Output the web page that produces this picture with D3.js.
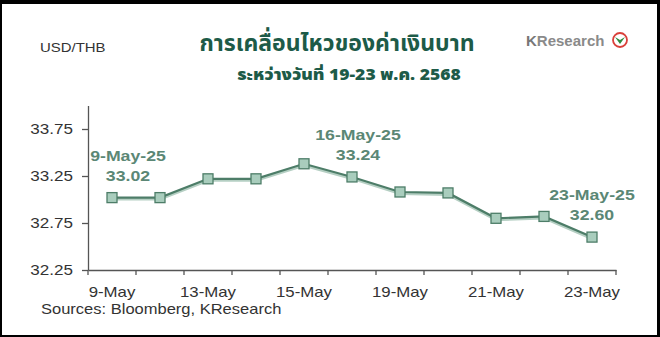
<!DOCTYPE html>
<html>
<head>
<meta charset="utf-8">
<script src="https://cdn.jsdelivr.net/npm/d3@7"></script>
<style>
  body { margin: 0; background: #000; }
  svg { display: block; }
</style>
</head>
<body>
<div id="chart"></div>
<script>
const dates = ['9-May', '12-May', '13-May', '14-May', '15-May', '16-May', '19-May', '20-May', '21-May', '22-May', '23-May'];
const rates = [33.02, 33.02, 33.22, 33.22, 33.38, 33.24, 33.08, 33.07, 32.80, 32.82, 32.60];
const tickLabels = ['9-May', '13-May', '15-May', '19-May', '21-May', '23-May'];
const yTicks = [32.25, 32.75, 33.25, 33.75];
const labelIdx = [0, 5, 10];
const labelDates = ['9-May-25', '16-May-25', '23-May-25'];

const W = 660, H = 337;
const svg = d3.select('#chart').append('svg')
    .attr('width', W)
    .attr('height', H);

// the source picture is stretched sideways, so text gets widened a bit
function widen(sel, k) {
    sel.each(function () {
        const t = d3.select(this);
        const tx = +t.attr('x') || 0, ty = +t.attr('y') || 0;
        t.attr('x', 0).attr('y', 0)
            .attr('transform', `translate(${tx},${ty}) scale(${k},1)`);
    });
}

// black frame
svg.append('rect').attr('width', W).attr('height', H).attr('fill', '#000');
svg.append('rect').attr('x', 2).attr('y', 4).attr('width', W - 5).attr('height', H - 6).attr('fill', '#fff');

const x = d3.scaleBand().domain(dates).range([88, 616]);
const y = d3.scaleLinear().domain([32.25, 34.0]).range([270, 105.5]);

const axisColor = '#555';
const font = 'Arial, "Liberation Sans", sans-serif';

// y axis
const yAxis = svg.append('g')
    .attr('transform', 'translate(88,0)')
    .call(d3.axisLeft(y).tickValues(yTicks).tickFormat(d3.format('.2f')).tickSize(6).tickSizeOuter(0));
yAxis.select('.domain').attr('stroke', axisColor).attr('stroke-width', 1.3);
yAxis.selectAll('.tick line').attr('stroke', axisColor).attr('stroke-width', 1.3);
yAxis.selectAll('.tick text')
    .attr('x', -15)
    .attr('dy', '0.35em')
    .attr('fill', '#333')
    .style('font', `14px ${font}`);
widen(yAxis.selectAll('.tick text'), 1.22);

// x axis with ticks on category boundaries
const xAxis = svg.append('g')
    .attr('transform', 'translate(0,270)')
    .call(d3.axisBottom(x).tickValues([]).tickSizeOuter(0));
xAxis.select('.domain').attr('stroke', axisColor).attr('stroke-width', 1.3);
const bounds = dates.map(d => x(d)).concat([x.range()[1]]);
xAxis.selectAll('.bound')
    .data(bounds)
    .enter()
    .append('line')
    .attr('x1', d => d).attr('x2', d => d)
    .attr('y1', 0).attr('y2', 5)
    .attr('stroke', axisColor)
    .attr('stroke-width', 1.3);
const xl = xAxis.selectAll('.lbl')
    .data(tickLabels)
    .enter()
    .append('text')
    .attr('x', d => x(d) + x.bandwidth() / 2)
    .attr('y', 27)
    .attr('text-anchor', 'middle')
    .attr('fill', '#333')
    .style('font', `14px ${font}`)
    .text(d => d);
widen(xl, 1.2);

// line
const cx = (d, i) => x(dates[i]) + x.bandwidth() / 2;
const line = d3.line().x(cx).y(d => y(d));

svg.append('path')
    .datum(rates)
    .attr('d', line)
    .attr('transform', 'translate(0,1.5)')
    .attr('fill', 'none')
    .attr('stroke', '#b5cfc3')
    .attr('stroke-width', 3);
svg.append('path')
    .datum(rates)
    .attr('d', line)
    .attr('fill', 'none')
    .attr('stroke', '#4d7d68')
    .attr('stroke-width', 2.2);

const ms = 10;
svg.selectAll('.mk')
    .data(rates)
    .enter()
    .append('rect')
    .attr('x', (d, i) => cx(d, i) - ms / 2)
    .attr('y', d => y(d) - ms / 2)
    .attr('width', ms)
    .attr('height', ms)
    .attr('fill', '#a9cdbd')
    .attr('stroke', '#4d7d68')
    .attr('stroke-width', 1.3);

// data labels
const labelShift = [16, 6, 0];
const labelColor = '#5b8775';
const lab = svg.selectAll('.dl')
    .data(labelIdx)
    .enter()
    .append('g')
    .attr('transform', (d, k) => `translate(${cx(rates[d], d) + labelShift[k]},${y(rates[d])})`);
const l1 = lab.append('text')
    .attr('y', -37)
    .attr('text-anchor', 'middle')
    .attr('fill', labelColor)
    .style('font', `bold 15px ${font}`)
    .text((d, k) => labelDates[k]);
const l2 = lab.append('text')
    .attr('y', -17)
    .attr('text-anchor', 'middle')
    .attr('fill', labelColor)
    .style('font', `bold 15px ${font}`)
    .text(d => rates[d].toFixed(2));
widen(l1, 1.18);
widen(l2, 1.18);

// titles
const thai = '"Noto Sans Thai", "Noto Sans Thai Looped", Tahoma, "DejaVu Sans", sans-serif';
svg.append('text')
    .attr('x', 337).attr('y', 51)
    .attr('text-anchor', 'middle')
    .attr('fill', '#1d5b48')
    .style('font', `bold 23px ${thai}`)
    .text('การเคลื่อนไหวของค่าเงินบาท');
const sub = svg.append('text')
    .attr('x', 349).attr('y', 80)
    .attr('text-anchor', 'middle')
    .attr('fill', '#1d5b48')
    .style('font', `900 15px ${thai}`)
    .text('ระหว่างวันที่ 19-23 พ.ค. 2568');
widen(sub, 1.17);

const usd = svg.append('text')
    .attr('x', 40).attr('y', 52)
    .attr('fill', '#333')
    .style('font', `13px ${font}`)
    .text('USD/THB');
widen(usd, 1.15);

const src = svg.append('text')
    .attr('x', 41).attr('y', 314)
    .attr('fill', '#333')
    .style('font', `14px ${font}`)
    .text('Sources: Bloomberg, KResearch');
widen(src, 1.18);

// KResearch logo
const logo = svg.append('g').attr('transform', 'translate(526,46)');
logo.append('text')
    .attr('fill', '#8a8a8a')
    .style('font', `bold 15px ${font}`)
    .html('<tspan fill="#777">K</tspan>Research');
logo.append('circle')
    .attr('cx', 94).attr('cy', -6)
    .attr('r', 7)
    .attr('fill', '#fff')
    .attr('stroke', '#d9403a')
    .attr('stroke-width', 1.8);
logo.append('path')
    .attr('d', 'M89,-9 L94,-2 L99,-9 L94,-6 Z')
    .attr('fill', '#2e8b3e');
</script>
</body>
</html>
